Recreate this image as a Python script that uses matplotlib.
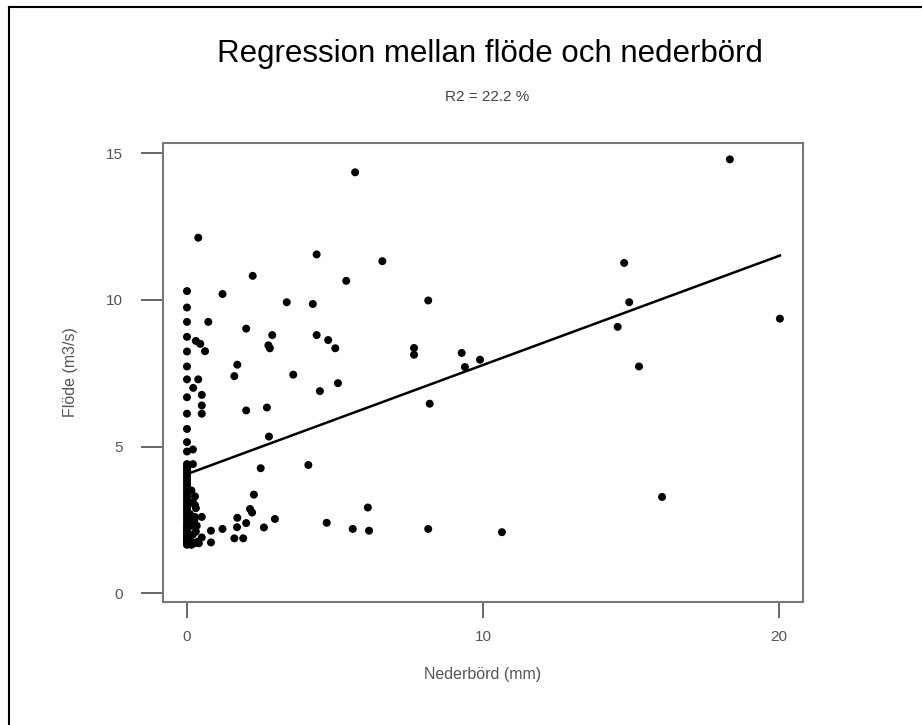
import matplotlib.pyplot as plt
from matplotlib.lines import Line2D

plt.rcParams['font.family'] = ['Liberation Sans', 'DejaVu Sans']

# precipitation (mm) and flow (m3/s)
zero_y = [1.65, 1.7, 1.75, 1.8, 1.85, 1.9, 1.95, 2.0, 2.05, 2.1, 2.2, 2.25, 2.3, 2.4,
          2.5, 2.6, 2.7, 2.8, 2.9, 3.0, 3.1, 3.2, 3.3, 3.4, 3.5, 3.6, 3.7, 3.8, 3.9,
          4.0, 4.1, 4.2, 4.3, 4.4, 4.83, 5.15, 5.6, 6.12, 6.68, 7.29, 7.73, 8.24,
          8.74, 9.25, 9.74, 10.3]
near_x = [0.15, 0.25, 0.35, 0.1, 0.2, 0.3, 0.15, 0.4, 0.25, 0.1, 0.3, 0.2, 0.15,
          0.33, 0.5, 0.27, 0.27, 0.27, 0.2, 0.2, 0.38, 0.21, 0.5, 0.5, 0.5, 0.61,
          0.3, 0.45, 0.72, 0.38]
near_y = [1.65, 1.7, 1.75, 1.85, 2.0, 2.1, 2.3, 1.7, 2.5, 2.7, 2.9, 3.1, 3.5,
          2.3, 2.6, 3.3, 3.0, 2.6, 4.9, 4.4, 12.12, 7.0, 6.76, 6.4, 6.12, 8.25,
          8.6, 8.5, 9.25, 7.29]
other_x = [5.68, 4.38, 6.6, 2.22, 5.38, 1.2, 3.37, 4.25, 8.15, 2.0, 2.88, 4.38,
           4.77, 5.01, 2.75, 2.8, 7.67, 7.67, 1.7, 1.6, 3.59, 5.1, 4.49, 2.0, 2.7,
           2.77, 2.49, 4.1, 2.26, 6.11, 2.13, 2.2, 1.7, 2.97, 4.72, 2.0, 1.69, 2.6,
           1.2, 0.81, 5.6, 6.15, 8.15, 0.81, 1.6, 1.9, 0.5,
           18.34, 14.77, 14.94, 14.55, 20.03, 9.28, 9.39, 9.9, 15.27, 8.2, 16.05,
           10.64]
other_y = [14.35, 11.55, 11.32, 10.82, 10.65, 10.2, 9.92, 9.86, 9.98, 9.02, 8.8,
           8.8, 8.63, 8.35, 8.45, 8.35, 8.36, 8.13, 7.79, 7.4, 7.45, 7.16, 6.89,
           6.23, 6.33, 5.34, 4.26, 4.37, 3.36, 2.92, 2.87, 2.75, 2.57, 2.53, 2.4,
           2.39, 2.25, 2.24, 2.19, 2.13, 2.19, 2.13, 2.19, 1.73, 1.87, 1.87, 1.9,
           14.79, 11.26, 9.92, 9.08, 9.36, 8.19, 7.71, 7.96, 7.73, 6.46, 3.28,
           2.08]

x = [0.0] * len(zero_y) + near_x + other_x
y = zero_y + near_y + other_y

# fitted line as drawn
intercept = 4.06
slope = 0.372
r2_text = 'R2 = 22.2 %'

fig = plt.figure(figsize=(9.22, 7.25), dpi=100)
ax = fig.add_axes([0.1768, 0.1697, 0.6941, 0.6331])

ax.scatter(x, y, s=33, color='black', edgecolors='none', zorder=3)
xs = [min(x), max(x)]
ax.plot(xs, [intercept + slope * v for v in xs], color='black', lw=1.8, zorder=2)

ax.set_xlim(-0.81, 20.81)
ax.set_ylim(-0.3, 15.35)
ax.set_xticks([0, 10, 20])
ax.set_yticks([0, 5, 10, 15])

grey = '#555555'
for s in ax.spines.values():
    s.set_color('#777777')
    s.set_linewidth(1.5)
ax.tick_params(axis='x', length=11.5, width=1.4, color='#666666', pad=9,
               labelsize=11, labelcolor=grey)
ax.tick_params(axis='y', length=16, width=1.4, color='#666666', pad=13,
               labelsize=11, labelcolor=grey)

ax.set_xlabel('Nederbörd (mm)', fontsize=11.5, color=grey, labelpad=16)
ax.set_ylabel('Flöde (m3/s)', fontsize=11.5, color=grey, labelpad=20)

fig.text(490 / 922, 1 - 54 / 725, 'Regression mellan flöde och nederbörd',
         ha='center', va='center', fontsize=22.5, color='black')
fig.text(487 / 922, 1 - 97 / 725, r2_text, ha='center', va='center',
         fontsize=11, color='#444444')

# cropped border: only top and left edges visible
fig.add_artist(Line2D([9 / 922, 1], [1 - 7 / 725, 1 - 7 / 725],
                      transform=fig.transFigure, color='black', lw=1.5))
fig.add_artist(Line2D([9 / 922, 9 / 922], [0, 1 - 7 / 725],
                      transform=fig.transFigure, color='black', lw=1.5))

fig.savefig('out.png', dpi=100)
